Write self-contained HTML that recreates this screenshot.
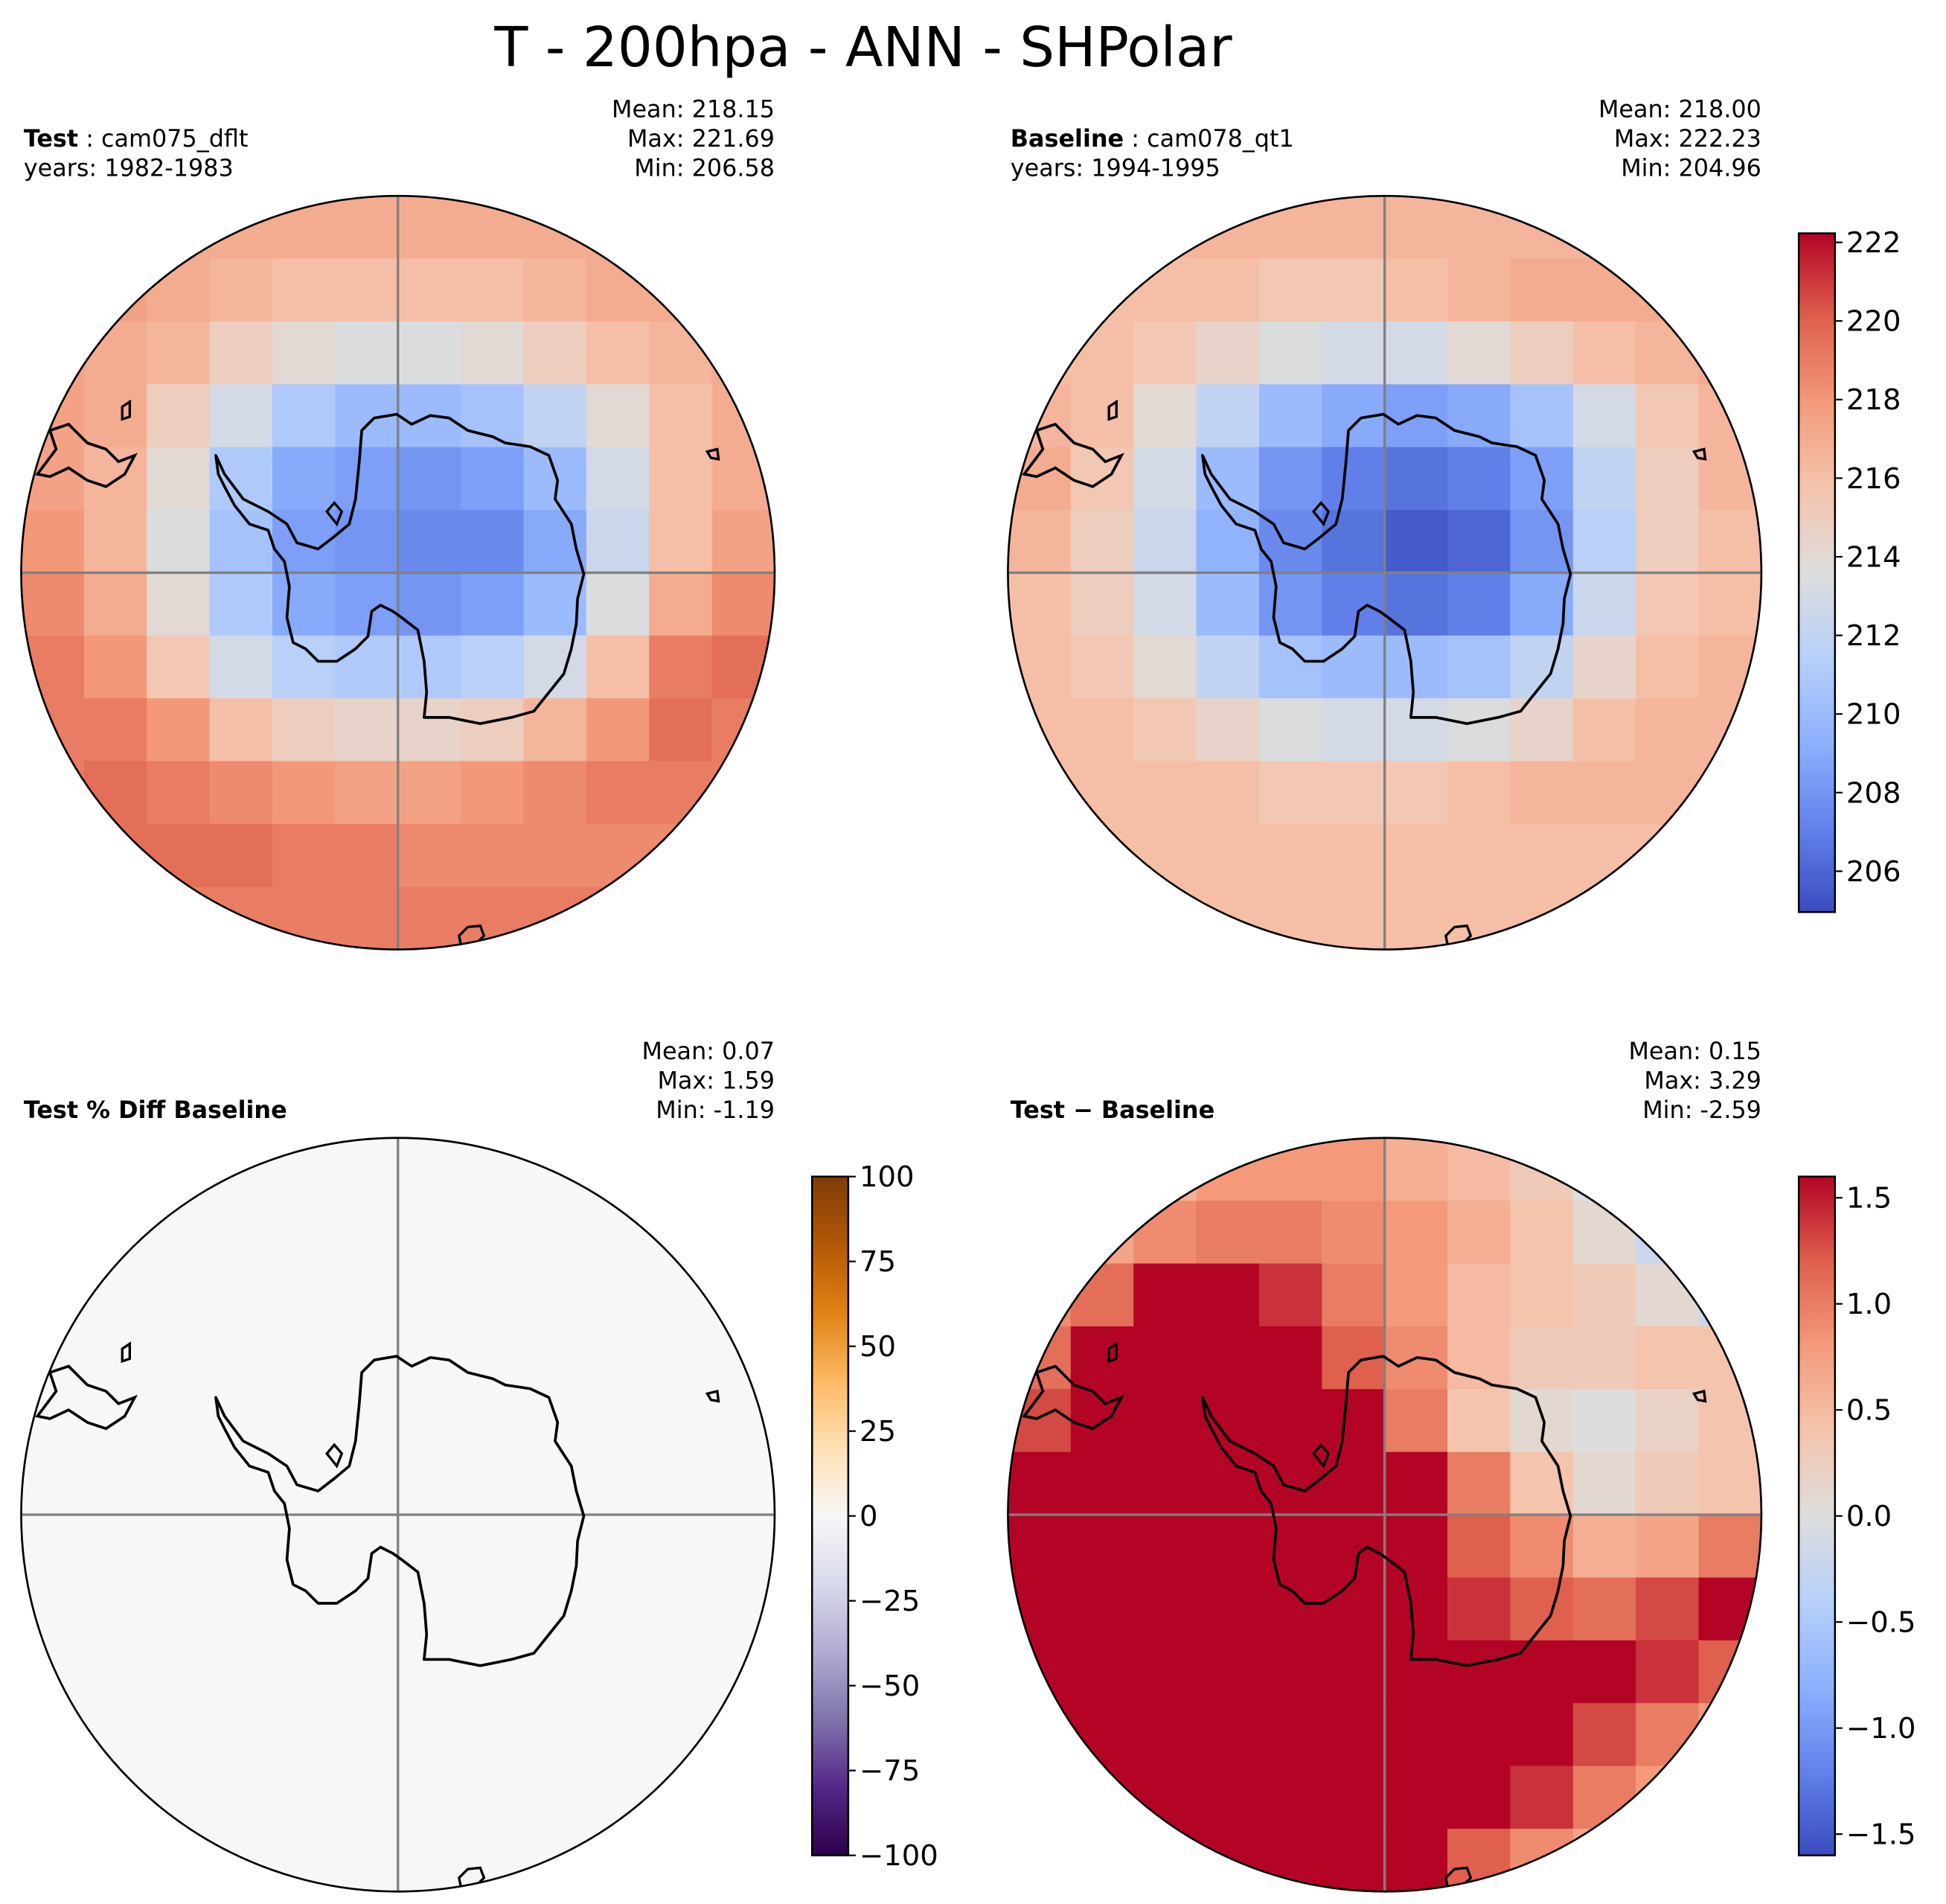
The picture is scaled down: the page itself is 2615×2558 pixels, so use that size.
<!DOCTYPE html>
<html><head><meta charset="utf-8"><style>
html,body{margin:0;padding:0;background:#fff}
svg{display:block;font-family:"DejaVu Sans","Liberation Sans",sans-serif}
</style></head><body>
<svg id="fig" width="2615" height="2558" viewBox="0 0 1560 1526" xmlns="http://www.w3.org/2000/svg">
<rect width="1560" height="1526" fill="#fff"/>
<text x="692" y="53" font-size="44" text-anchor="middle">T - 200hpa - ANN - SHPolar</text>
<g id="root"></g>
</svg>
<script>
// ---- data (12x12 grids, row-major from top) ----
const testGrid = [
[217,217,217,217,217,217,217,217,217,217,217,217],
[217.5,217.5,217,216.5,216,216,216,216,216.5,217,217,217],
[217.5,217,216.5,215,214,213.5,213.5,214,215,216,216.5,217],
[217.5,217,215,213,211,210,210,210.5,212,214,216,217],
[217.5,216.5,214,211,209,208.5,208,208.5,210,213,216,217],
[218,216.5,213.5,210.5,208.5,208,207.5,207.5,209,212.5,216,217.5],
[218.5,217,214,211,209,208.5,208,208.5,210,213.5,217,218.5],
[219,218,215.5,213,211.5,211,211,211.5,213,216,219,219.5],
[219,219,218,216,215,214.5,214.5,215,216.5,218,219.5,219],
[219,219.5,219,218.5,218,217.5,217.5,218,218.5,219,219,219],
[219,219.5,219.5,219.5,219,219,218.5,218.5,218.5,218.5,218.5,218.5],
[219,219,219,219,219,219,219,219,219,219,219,219]];
const baseGrid = [
[216.5,216.5,216.5,216.5,216.5,216.5,216.5,216.5,216.5,216.5,216.5,216.5],
[216,216,216,216,215.5,215.5,216,216.5,217,217,217,217],
[216,216,215.5,214.5,213.5,213,213,214,215,216,216.5,217],
[216.5,216,214,212,210,209,208.5,209,210.5,213,215.5,216.5],
[217,215.5,213,210,208,207,206.5,207,208.5,212,215,216.5],
[216.5,215,212.5,209.5,207.5,206.5,205.5,206,208,211.5,215,216],
[216,215,213,210,208,207,206.5,207,209,212.5,215.5,216],
[216,215.5,214,212,210.5,210,210,210.5,212,214.5,216,216.5],
[216,216,215.5,214.5,213.5,213,213,213.5,214.5,216,216.5,216.5],
[216,216,216,216,215.5,215.5,215.5,216,216.5,216.5,216.5,216.5],
[216,216,216,216,216,216,216,216,216,216,216,216],
[216,216,216,216,216,216,216,216,216,216,216,216]];
const pctGrid = [
[0.1,0.1,0.1,0.1,0.1,0.1,0.1,0.1,0.1,0.1,0.1,0.1]];
const diffGrid = [
[0.2,0.4,0.6,0.8,0.8,0.8,0.6,0.5,0.3,0.0,-0.4,-0.6],
[0.5,0.7,0.9,1.0,1.0,0.9,0.8,0.6,0.4,0.1,-0.2,-0.5],
[0.9,1.1,1.6,1.6,1.4,1.0,0.8,0.5,0.4,0.3,0.1,-0.2],
[1.1,1.6,1.6,1.6,1.6,1.2,0.9,0.5,0.3,0.3,0.4,0.4],
[1.3,1.6,1.6,1.6,1.6,1.6,1.0,0.4,0.1,0.0,0.2,0.4],
[1.6,1.6,1.6,1.6,1.6,1.6,1.6,1.0,0.4,0.1,0.3,0.4],
[1.6,1.6,1.6,1.6,1.6,1.6,1.6,1.2,0.9,0.6,0.7,1.0],
[1.6,1.6,1.6,1.6,1.6,1.6,1.6,1.4,1.2,1.1,1.3,1.6],
[1.6,1.6,1.6,1.6,1.6,1.6,1.6,1.6,1.6,1.6,1.4,1.2],
[1.6,1.6,1.6,1.6,1.6,1.6,1.6,1.6,1.6,1.3,1.0,0.8],
[1.6,1.6,1.6,1.6,1.6,1.6,1.6,1.6,1.4,1.0,0.8,0.6],
[1.6,1.6,1.6,1.6,1.6,1.6,1.6,1.2,0.9,0.7,0.6,0.5]];
const tempTicks = [206,208,210,212,214,216,218,220,222];
const pctTicks = [-100,-75,-50,-25,0,25,50,75,100];
const diffTicks = [-1.5,-1.0,-0.5,0.0,0.5,1.0,1.5];
const diffTickLabels = ["\u22121.5","\u22121.0","\u22120.5","0.0","0.5","1.0","1.5"];
const pctTickLabels = ["\u2212100","\u221275","\u221250","\u221225","0","25","50","75","100"];

const coolwarm=[[59,76,192],[98,130,234],[141,176,254],[184,208,249],[221,221,221],[245,196,173],[244,154,123],[222,96,77],[180,4,38]];
const puor=[[45,0,75],[84,39,136],[128,115,172],[178,171,210],[216,218,235],[247,247,247],[254,224,182],[253,184,99],[224,130,20],[179,88,6],[127,59,8]];
function cmap(stops,t){t=Math.max(0,Math.min(1,t));const n=stops.length-1;const i=Math.min(n-1,Math.floor(t*n));const f=t*n-i;const a=stops[i],b=stops[i+1];
return `rgb(${a.map((v,k)=>Math.round(v+(b[k]-v)*f)).join(',')})`;}
const NS="http://www.w3.org/2000/svg";
const root=document.getElementById('root');
function el(tag,attrs,parent){const e=document.createElementNS(NS,tag);for(const k in attrs)e.setAttribute(k,attrs[k]);(parent||root).appendChild(e);return e;}
function txt(s,attrs,parent){const t=el('text',attrs,parent);t.textContent=s;return t;}

const R=302;
const ant=[[290,345],[300,335],[318,332],[330,340],[345,333],[360,335],[375,345],[395,350],[405,355],[425,358],[440,365],[447,385],[445,400],[458,420],[462,440],[468,460],[463,480],[462,500],[458,520],[452,540],[440,555],[428,570],[410,575],[385,580],[360,575],[340,575],[342,555],[340,530],[335,505],[322,495],[315,490],[305,485],[298,490],[295,510],[285,520],[270,530],[255,530],[245,520],[235,515],[230,495],[232,470],[228,450],[220,440],[215,425],[200,420],[188,405],[180,390],[175,380],[173,365],[180,380],[195,400],[215,410],[230,420],[238,435],[255,440],[268,430],[280,420],[285,400],[288,370]];
const sam=[[30,380],[45,360],[40,345],[55,340],[70,355],[85,360],[95,370],[108,365],[100,380],[85,390],[70,385],[55,375],[40,382]];
function poly(pts,cx,cy){return 'M'+pts.map(p=>`${p[0]-319+cx},${p[1]-459+cy}`).join('L')+'Z';}

function panel(id,cx,cy,grid,stops,vmin,vmax){
  const g=el('g',{});
  
  
  const cp=el('clipPath',{id:'cp-'+id},g);el('circle',{cx,cy,r:R},cp);
  const cg=el('g',{'clip-path':`url(#cp-${id})`},g);
  const nr=grid.length,nc=grid[0].length;const ch=2*R/nr,cw=2*R/nc;
  grid.forEach((row,i)=>row.forEach((v,j)=>{
    const r=el('rect',{x:cx-R+j*cw,y:cy-R+i*ch,width:cw+0.6,height:ch+0.6,fill:cmap(stops,(v-vmin)/(vmax-vmin))},cg);
    
    
  }));
  el('line',{x1:cx-R,y1:cy,x2:cx+R,y2:cy,stroke:'#808080','stroke-width':2},cg);
  el('line',{x1:cx,y1:cy-R,x2:cx,y2:cy+R,stroke:'#808080','stroke-width':2},cg);
  const c=el('path',{d:poly(ant,cx,cy),fill:'none',stroke:'#000','stroke-width':2.2,'stroke-linejoin':'round'},cg);
  
  el('path',{d:poly(sam,cx,cy),fill:'none',stroke:'#000','stroke-width':2.2},cg);
  el('path',{d:poly([[98,326],[104,322],[104,334],[98,336]],cx,cy),fill:'none',stroke:'#000','stroke-width':2},cg);
  el('path',{d:poly([[567,362],[575,360],[576,368],[570,367]],cx,cy),fill:'none',stroke:'#000','stroke-width':2},cg);
  el('path',{d:poly([[368,750],[375,743],[385,742],[388,750],[380,758],[370,760]],cx,cy),fill:'none',stroke:'#000','stroke-width':2},cg);
  el('path',{d:poly([[262,410],[268,403],[274,410],[270,420]],cx,cy),fill:'none',stroke:'#000','stroke-width':2},cg);
  el('circle',{cx,cy,r:R,fill:'none',stroke:'#000','stroke-width':1.6},g);
}
function header(x0,x1,ystat,stats,boldLabel,rest,years){
  const lines=['Mean: '+stats[0],'Max: '+stats[1],'Min: '+stats[2]];
  lines.forEach((s,i)=>{const t=txt(s,{x:x1,y:ystat+i*23.5,'font-size':19,'text-anchor':'end','xml:space':'preserve'});
    });
  const t=el('text',{x:x0,y:ystat+(years?23.5:47),'font-size':19});
  
  const b=el('tspan',{'font-weight':'bold'},t);b.textContent=boldLabel;
  if(rest){const r=el('tspan',{},t);r.textContent=rest;}
  if(years){const y=txt(years,{x:x0,y:ystat+47,'font-size':19});}
}
function colorbar(id,x,y0,y1,stops,vmin,vmax,ticks,labels){
  const gid='grad-'+id;const gr=el('linearGradient',{id:gid,x1:0,y1:1,x2:0,y2:0});
  stops.forEach((s,i)=>el('stop',{offset:i/(stops.length-1),'stop-color':`rgb(${s.join(',')})`},gr));
  const r=el('rect',{x,y:y0,width:29,height:y1-y0,fill:`url(#${gid})`,stroke:'#000','stroke-width':1.5});
  
  const ys=v=>y1-(v-vmin)/(vmax-vmin)*(y1-y0);
  ticks.forEach((v,i)=>{const yy=ys(v);el('line',{x1:x+29,y1:yy,x2:x+35,y2:yy,stroke:'#000','stroke-width':1.3});
    const t=txt(labels?labels[i]:String(v),{x:x+38,y:yy+8,'font-size':23});
    });
}
panel('test',319,459,testGrid,coolwarm,204.96,222.23);
panel('baseline',1110,459,baseGrid,coolwarm,204.96,222.23);
panel('pct-diff',319,1214,pctGrid,puor,-100,100);
panel('diff',1110,1214,diffGrid,coolwarm,-1.6,1.6);
header(19,621,94,['218.15','221.69','206.58'],'Test',' : cam075_dflt','years: 1982-1983');
header(810,1412,94,['218.00','222.23','204.96'],'Baseline',' : cam078_qt1','years: 1994-1995');
header(19,621,849,[' 0.07',' 1.59','-1.19'],'Test % Diff Baseline','',null);
header(810,1412,849,[' 0.15',' 3.29','-2.59'],'Test \u2212 Baseline','',null);
colorbar('temp',1442,187,731,coolwarm,204.96,222.23,tempTicks,null);
colorbar('pct',651,943,1487,puor,-100,100,pctTicks,pctTickLabels);
colorbar('diff',1442,943,1487,coolwarm,-1.6,1.6,diffTicks,diffTickLabels);
</script>
</body></html>
